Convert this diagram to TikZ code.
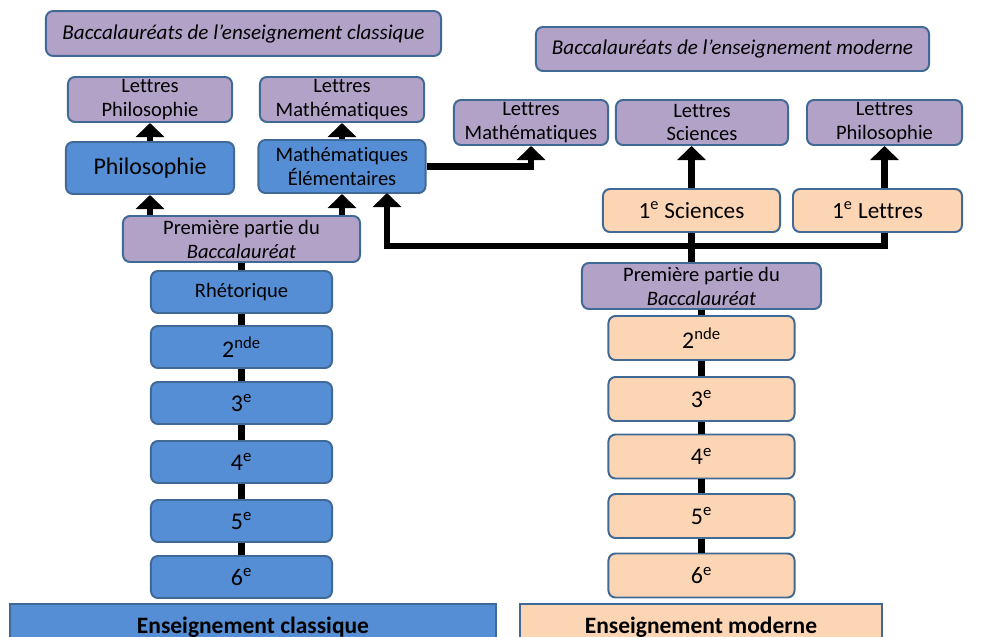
\documentclass[tikz,border=0pt]{standalone}
\usepackage{fontspec}
\setmainfont{Carlito}[Ligatures=NoCommon]
\usetikzlibrary{arrows.meta}
\usetikzlibrary{positioning}

\definecolor{bleuclassique}{RGB}{85,142,213}
\definecolor{pechemoderne}{RGB}{252,213,181}
\definecolor{mauvebac}{RGB}{179,162,199}
\definecolor{bordure}{RGB}{65,105,150}

\begin{document}
\begin{tikzpicture}[x=0.025cm, y=-0.025cm,
    box/.style={draw=bordure, line width=1.4pt, rounded corners=5pt, align=center,
      inner sep=1pt, font=\fontsize{14.6}{17}\selectfont},
    classique/.style={box, fill=bleuclassique},
    moderne/.style={box, fill=pechemoderne},
    bac/.style={box, fill=mauvebac},
    rang/.style={minimum width=4.525cm, minimum height=1.05cm, font=\fontsize{17}{19}\selectfont},
    titre/.style={bac, minimum height=1.12cm, font=\fontsize{15}{17}\selectfont\itshape},
    socle/.style={draw=bordure, line width=1.4pt, minimum height=1.15cm,
      font=\fontsize{16.7}{18}\selectfont\bfseries},
    ladder/.style={line width=4.4pt},
    link/.style={ladder, -{Triangle[width=20pt,length=10pt]}}
  ]
  \useasboundingbox (0,0) rectangle (988,637);
  \clip (0,0) rectangle (988,637);

  % enseignement classique
  \node[titre, minimum width=9.875cm] (titreC) at (243.5,33.5)
    {Baccalauréats de l’enseignement classique};
  \node[bac, minimum width=4.1cm, minimum height=1.125cm] (lpL) at (150,99.5) {Lettres\\Philosophie};
  \node[bac, minimum width=4.1cm, minimum height=1.125cm] (lmL) at (342,99.5) {Lettres\\Mathématiques};
  \node[classique, minimum width=4.2cm, minimum height=1.3cm, font=\fontsize{17}{19}\selectfont]
    (philo) at (150,168) {Philosophie}
    edge [link] (lpL);
  \node[classique, minimum width=4.175cm, minimum height=1.325cm] (mathel) at (342,166.5)
    {Mathématiques\\Élémentaires}
    edge [link] (lmL);
  \node[bac, minimum width=5.925cm, minimum height=1.15cm] (ppL) at (241.5,239)
    {Première partie du\\\textit{Baccalauréat}};
  \node[classique, rang, font=\fontsize{14.6}{17}\selectfont] (rhetL) at (241.5,292) {Rhétorique};
  \node[classique, rang] (deuxL) at (241.5,347) {2\textsuperscript{nde}};
  \node[classique, rang] (troisL) at (241.5,403) {3\textsuperscript{e}};
  \node[classique, rang] (quatreL) at (241.5,462) {4\textsuperscript{e}};
  \node[classique, rang] (cinqL) at (241.5,521) {5\textsuperscript{e}};
  \node[classique, rang] (sixL) at (241.5,577) {6\textsuperscript{e}};
  \node[socle, fill=bleuclassique, minimum width=12.15cm] (ensC) at (253,627)
    {\raisebox{3pt}{Enseignement classique}};

  \draw[link] (philo |- ppL.north) -- (philo.south);
  \draw[link] (mathel |- ppL.north) -- (mathel.south);
  \foreach \a/\b in {ppL/rhetL, rhetL/deuxL, deuxL/troisL, troisL/quatreL, quatreL/cinqL, cinqL/sixL}
    \draw[ladder] (\a) -- (\b);

  % enseignement moderne
  \node[titre, minimum width=9.825cm, minimum height=1.1cm] (titreM) at (732.5,49)
    {Baccalauréats de l’enseignement moderne};
  \node[bac, minimum width=3.85cm, minimum height=1.125cm] (lmR) at (531,122.5) {Lettres\\Mathématiques};
  \node[bac, minimum width=4.3cm, minimum height=1.125cm] (lsR) at (702,122.5) {Lettres\\Sciences};
  \node[bac, minimum width=3.875cm, minimum height=1.125cm] (lpR) at (884.5,122.5) {Lettres\\Philosophie};
  \node[moderne, minimum width=4.425cm, minimum height=1.075cm, font=\fontsize{16.5}{19}\selectfont]
    (sciR) at (691.5,210.5) {1\textsuperscript{e} Sciences};
  \node[moderne, minimum width=4.225cm, minimum height=1.075cm, font=\fontsize{16.5}{19}\selectfont]
    (letR) at (877.5,210.5) {1\textsuperscript{e} Lettres};
  \node[bac, minimum width=5.975cm, minimum height=1.15cm] (ppR) at (701.5,286)
    {Première partie du\\\textit{Baccalauréat}};
  \node[moderne, rang, minimum width=4.65cm, minimum height=1.1cm] (deuxR) at (701.5,338) {2\textsuperscript{nde}};
  \node[moderne, rang, minimum width=4.65cm, minimum height=1.1cm] (troisR) at (701.5,399) {3\textsuperscript{e}};
  \node[moderne, rang, minimum width=4.65cm, minimum height=1.1cm] (quatreR) at (701.5,456.5) {4\textsuperscript{e}};
  \node[moderne, rang, minimum width=4.65cm, minimum height=1.1cm] (cinqR) at (701.5,516) {5\textsuperscript{e}};
  \node[moderne, rang, minimum width=4.65cm, minimum height=1.1cm] (sixR) at (701.5,575.5) {6\textsuperscript{e}};
  \node[socle, fill=pechemoderne, minimum width=9.05cm] (ensM) at (701,627)
    {\raisebox{3pt}{Enseignement moderne}};

  \coordinate (jonction) at (691.5,246);
  \coordinate (retour) at (387,193);

  \draw[link] (sciR.north) -- (sciR.north |- lsR.south);
  \draw[link] (letR.north -| lpR) -- (lpR.south);
  \draw[link] (mathel.east) -| (lmR.south);
  \draw[ladder] (sciR |- ppR.north) -- (sciR.south);
  \draw[link] (letR.south -| lpR) |- (jonction) -| (retour);
  \foreach \a/\b in {ppR/deuxR, deuxR/troisR, troisR/quatreR, quatreR/cinqR, cinqR/sixR}
    \draw[ladder] (\a) -- (\b);
\end{tikzpicture}
\end{document}
